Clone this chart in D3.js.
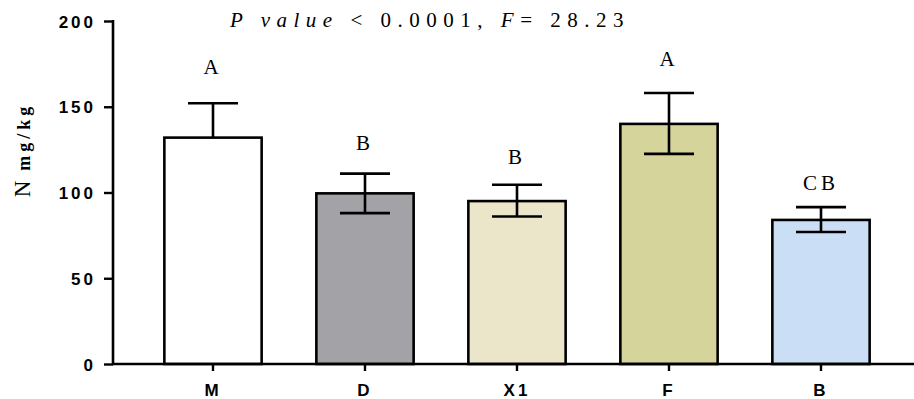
<!DOCTYPE html>
<html>
<head>
<meta charset="utf-8">
<script src="https://cdn.jsdelivr.net/npm/d3@7"></script>
<style>
  html, body { margin: 0; padding: 0; background: #fff; }
  svg { display: block; }
</style>
</head>
<body>
<div id="chart"></div>
<script>
  // group values
  var groups   = ['M', 'D', 'X1', 'F', 'B'];
  var means    = [132, 99.5, 95, 140, 84];
  var errUp    = [20, 11.5, 9.5, 18, 7.5];
  var errDown  = [0, 11.5, 9, 17.5, 7];   // M only shows the upper whisker
  var letters  = ['A', 'B', 'B', 'A', 'CB'];
  var letterAt = [169, 125, 116.5, 174, 101.5];
  var colors   = ['#ffffff', '#a3a2a7', '#ebe6c9', '#d5d59b', '#cadef6'];
  var yTicks   = [0, 50, 100, 150, 200];

  var width = 914, height = 399;

  var svg = d3.select('#chart').append('svg')
    .attr('width', width)
    .attr('height', height);

  var x = d3.scaleBand()
    .domain(groups)
    .range([137, 897])
    .paddingInner(0.36)
    .paddingOuter(0.18);

  var y = d3.scaleLinear()
    .domain([0, 200])
    .range([364, 21]);

  //bars
  svg.append('g').selectAll('rect')
    .data(groups)
    .enter().append('rect')
    .attr('x', function (d) { return x(d); })
    .attr('y', function (d, i) { return y(means[i]); })
    .attr('width', x.bandwidth())
    .attr('height', function (d, i) { return y(0) - y(means[i]); })
    .attr('fill', function (d, i) { return colors[i]; })
    .attr('stroke', '#000')
    .attr('stroke-width', 2.6);

  //error bars
  var capHalf = 25;
  var err = svg.append('g').attr('stroke', '#000').attr('stroke-width', 2.6);
  groups.forEach(function (g, i) {
    var cx = x(g) + x.bandwidth() / 2;
    var top = y(means[i] + errUp[i]);
    var bottom = y(means[i] - errDown[i]);
    err.append('line').attr('x1', cx).attr('x2', cx).attr('y1', top).attr('y2', bottom);
    err.append('line').attr('x1', cx - capHalf).attr('x2', cx + capHalf).attr('y1', top).attr('y2', top);
    if (errDown[i] > 0)
      err.append('line').attr('x1', cx - capHalf).attr('x2', cx + capHalf).attr('y1', bottom).attr('y2', bottom);
  });

  //significance letters
  svg.append('g').selectAll('text')
    .data(groups)
    .enter().append('text')
    .attr('x', function (d) { return x(d) + x.bandwidth() / 2; })
    .attr('y', function (d, i) { return y(letterAt[i]); })
    .attr('text-anchor', 'middle')
    .attr('font-family', '"Liberation Serif", "Times New Roman", serif')
    .attr('font-size', 21)
    .attr('letter-spacing', 4)
    .text(function (d, i) { return letters[i]; });

  //axes
  var yAxis = svg.append('g')
    .attr('transform', 'translate(113,0)')
    .call(d3.axisLeft(y).tickValues(yTicks).tickSize(9).tickPadding(8).tickFormat(d3.format('d')));

  var xAxis = svg.append('g')
    .attr('transform', 'translate(0,' + y(0) + ')')
    .call(d3.axisBottom(x).tickSize(7).tickPadding(13));

  [yAxis, xAxis].forEach(function (a) {
    a.attr('font-family', '"Liberation Sans", Arial, sans-serif')
     .attr('font-size', 17)
     .attr('font-weight', 'bold');
    a.selectAll('line').attr('stroke', '#000').attr('stroke-width', 2.4);
    a.selectAll('text').attr('fill', '#000').attr('letter-spacing', 3);
    a.select('.domain').remove();
  });
  yAxis.selectAll('text').attr('dy', '0.36em');

  svg.append('line')
    .attr('x1', 113).attr('x2', 113)
    .attr('y1', y(200) - 1).attr('y2', y(0) + 1)
    .attr('stroke', '#000').attr('stroke-width', 2.6);
  svg.append('line')
    .attr('x1', 112).attr('x2', width)
    .attr('y1', y(0)).attr('y2', y(0))
    .attr('stroke', '#000').attr('stroke-width', 2.6);

  //y label
  var yl = svg.append('text')
    .attr('transform', 'translate(30,150) rotate(-90)')
    .attr('text-anchor', 'middle')
    .attr('font-family', '"Liberation Serif", "Times New Roman", serif');
  yl.append('tspan').attr('font-size', 23).text('N');
  yl.append('tspan').attr('font-size', 18).attr('font-weight', 'bold')
    .attr('letter-spacing', 4).attr('dx', 10).text('mg/kg');

  //title
  var t = svg.append('text')
    .attr('x', 430).attr('y', 27)
    .attr('text-anchor', 'middle')
    .attr('font-family', '"Liberation Serif", "Times New Roman", serif')
    .attr('font-size', 21)
    .attr('letter-spacing', 6.5);
  t.append('tspan').attr('font-style', 'italic').text('P value');
  t.append('tspan').text(' < 0.0001, ');
  t.append('tspan').attr('font-style', 'italic').text('F');
  t.append('tspan').text('= 28.23');
</script>
</body>
</html>
